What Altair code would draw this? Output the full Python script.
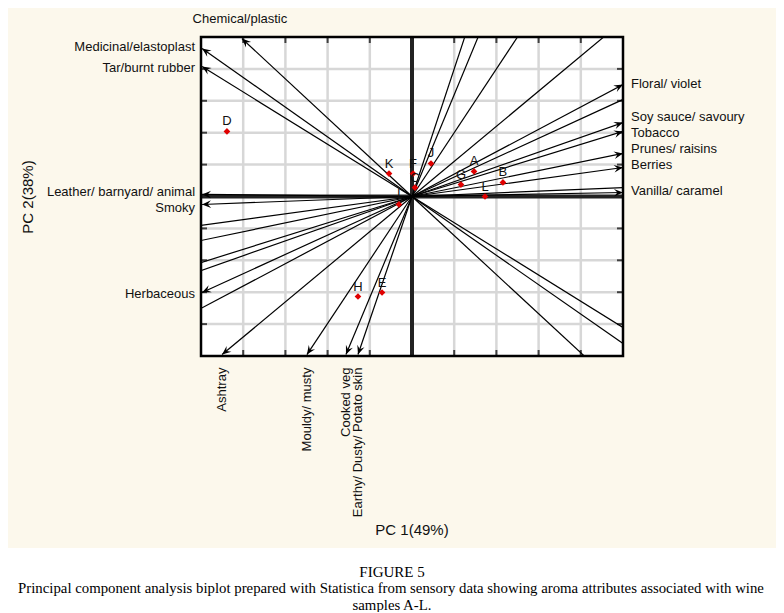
import altair as alt
import pandas as pd

W, H = 422, 319

# ---- sample scores (red diamonds) ----
sample_names = ["A", "B", "C", "D", "E", "F", "G", "H", "I", "J", "K", "L"]
sample_pc1 = [0.294, 0.431, 0.014, -0.877, -0.142, 0.005, 0.232, -0.256, -0.062, 0.090, -0.109, 0.346]
sample_pc2 = [0.157, 0.088, 0.056, 0.408, -0.602, 0.144, 0.075, -0.627, -0.050, 0.207, 0.144, 0.000]

# ---- labelled attribute vectors ----
attr_names = ["Chemical/plastic", "Medicinal/elastoplast", "Tar/burnt rubber",
              "Leather/ barnyard/ animal", "Smoky", "Herbaceous",
              "Ashtray", "Mouldy/ musty", "Cooked veg", "Earthy/ Dusty/ Potato skin",
              "Floral/ violet", "Soy sauce/ savoury", "Tobacco", "Prunes/ raisins",
              "Berries", "Vanilla/ caramel"]
attr_pc1 = [-0.806, -0.995, -0.995, -0.995, -0.995, -0.995,
            -0.900, -0.498, -0.313, -0.256,
            1.0, 1.0, 1.0, 1.0, 1.0, 1.0]
attr_pc2 = [0.990, 0.928, 0.815, 0.013, -0.050, -0.602,
            -0.991, -0.991, -0.991, -0.991,
            0.702, 0.464, 0.408, 0.270, 0.182, 0.025]
attr_side = ["top", "left", "left", "left", "left", "left",
             "bottom", "bottom", "bottom", "bottom",
             "right", "right", "right", "right", "right", "right"]
# small vertical label nudges (px) used to keep neighbouring labels apart
label_nudge = [0, -1, 1, -2, 4, 1, 0, 0, 0, 0, -1, -5, 2, -4, -2, -2]

# ---- unlabelled vectors that run out of the plot window ----
extra_pc1 = [0.30, 0.376, 0.60, 1.09, 1.2, 1.2, 1.2, 1.2, 0.98,
             -1.2, -1.2, -1.2, -1.2, -1.2]
extra_pc2 = [1.2, 1.2, 1.2, 1.2, 0.73, 0.067, -0.985, -1.106, -1.2,
             -0.218, -0.331, -0.497, -0.557, -0.842]

grid_ticks = [-0.8, -0.6, -0.4, -0.2, 0.2, 0.4, 0.6, 0.8]

FONT = "Liberation Sans"
SERIF = "Liberation Serif"
TXT = "#111111"

samples = pd.DataFrame({"name": sample_names, "pc1": sample_pc1, "pc2": sample_pc2})
attrs = pd.DataFrame({"name": attr_names, "pc1": attr_pc1, "pc2": attr_pc2,
                      "side": attr_side, "nudge": label_nudge})
vectors = pd.concat([attrs[["pc1", "pc2"]],
                     pd.DataFrame({"pc1": extra_pc1, "pc2": extra_pc2})], ignore_index=True)
grid = pd.DataFrame({"v": grid_ticks})
one = pd.DataFrame({"a": [0]})

xs = alt.Scale(domain=[-1, 1], nice=False, zero=False)
ys = alt.Scale(domain=[-1, 1], nice=False, zero=False)

def X(f):
    return alt.X(f, type="quantitative", scale=xs, axis=None)

def Y(f):
    return alt.Y(f, type="quantitative", scale=ys, axis=None)

cream = alt.Chart(one).mark_rect(color="#fcf8ec").encode(
    x=alt.value(-193), x2=alt.value(575), y=alt.value(-29), y2=alt.value(511))

plot_bg = alt.Chart(one).mark_rect(color="white").encode(
    x=alt.X(datum=-1, scale=xs, axis=None), x2=alt.datum(1),
    y=alt.Y(datum=-1, scale=ys, axis=None), y2=alt.datum(1))

vgrid = alt.Chart(grid).mark_rule(color="#d7d7d7", strokeWidth=2.5).encode(
    x=X("v"), y=alt.value(0), y2=alt.value(H))
hgrid = alt.Chart(grid).mark_rule(color="#d7d7d7", strokeWidth=2.5).encode(
    y=Y("v"), x=alt.value(0), x2=alt.value(W))

axes0 = alt.Chart(one).mark_rule(color="#222222", strokeWidth=4).encode(
    x=alt.X(datum=0, scale=xs, axis=None), y=alt.value(0), y2=alt.value(H))
axes1 = alt.Chart(one).mark_rule(color="#222222", strokeWidth=4).encode(
    y=alt.Y(datum=0, scale=ys, axis=None), x=alt.value(0), x2=alt.value(W))

vec_lines = alt.Chart(vectors).mark_rule(color="black", strokeWidth=1.2, clip=True).encode(
    x=X("pc1"), y=Y("pc2"), x2=alt.datum(0), y2=alt.datum(0))

arrow_path = "M0,0 L0.42,1 L0,0.62 L-0.42,1 Z"
heads = alt.Chart(attrs).transform_calculate(
    ang=f"(atan2(datum.pc1*{W/2}, datum.pc2*{H/2})*180/PI + 360) % 360"
).mark_point(shape=arrow_path, filled=True, color="black", size=324, opacity=1).encode(
    x=X("pc1"), y=Y("pc2"), angle=alt.Angle("ang:Q", scale=None))

pts = alt.Chart(samples).mark_point(shape="diamond", filled=True, color="#e00000",
                                   size=45, opacity=1).encode(x=X("pc1"), y=Y("pc2"))
pt_labels = alt.Chart(samples).mark_text(font=FONT, fontSize=13, color=TXT, dy=-10).encode(
    x=X("pc1"), y=Y("pc2"), text="name")

def side(s):
    return alt.Chart(attrs).transform_filter(alt.datum.side == s).transform_calculate(
        ly=f"datum.pc2 - datum.nudge / {H/2}")

lab_left = side("left").mark_text(font=FONT, fontSize=13, color=TXT, align="right",
                                  baseline="middle", dx=-7).encode(x=X("pc1"), y=Y("ly"), text="name")
lab_right = side("right").mark_text(font=FONT, fontSize=13, color=TXT, align="left",
                                    baseline="middle", dx=8).encode(x=X("pc1"), y=Y("ly"), text="name")
lab_top = side("top").mark_text(font=FONT, fontSize=13, color=TXT, align="center",
                                baseline="middle", dy=-20, dx=-2).encode(x=X("pc1"), y=Y("ly"), text="name")
lab_bottom = side("bottom").mark_text(font=FONT, fontSize=13, color=TXT, align="right",
                                      baseline="middle", angle=270, dx=-13).encode(
    x=X("pc1"), y=Y("ly"), text="name")

# frame and ticks
frame = alt.Chart(one).mark_rect(fill="transparent", stroke="black", strokeWidth=2.5).encode(
    x=alt.X(datum=-1, scale=xs, axis=None), x2=alt.datum(1),
    y=alt.Y(datum=-1, scale=ys, axis=None), y2=alt.datum(1))
tick_l = alt.Chart(grid).mark_tick(orient="horizontal", color="black", size=6, thickness=2,
                                   xOffset=3).encode(x=alt.X(datum=-1, scale=xs, axis=None), y=Y("v"))
tick_r = alt.Chart(grid).mark_tick(orient="horizontal", color="black", size=6, thickness=2,
                                   xOffset=-3).encode(x=alt.X(datum=1, scale=xs, axis=None), y=Y("v"))
tick_t = alt.Chart(grid).mark_tick(orient="vertical", color="black", size=6, thickness=2,
                                   yOffset=3).encode(y=alt.Y(datum=1, scale=ys, axis=None), x=X("v"))
tick_b = alt.Chart(grid).mark_tick(orient="vertical", color="black", size=6, thickness=2,
                                   yOffset=-3).encode(y=alt.Y(datum=-1, scale=ys, axis=None), x=X("v"))

title_x = alt.Chart(one).mark_text(text="PC 1(49%)", font=FONT, fontSize=15, color=TXT,
                                   baseline="middle").encode(x=alt.value(W / 2), y=alt.value(493))
title_y = alt.Chart(one).mark_text(text="PC 2(38%)", font=FONT, fontSize=15, color=TXT,
                                   baseline="middle", angle=270).encode(x=alt.value(-173), y=alt.value(160))

cap1 = alt.Chart(one).mark_text(text="FIGURE 5", font=SERIF, fontSize=15, color="black",
                                baseline="middle").encode(x=alt.value(191), y=alt.value(535))
cap2 = alt.Chart(one).mark_text(
    text="Principal component analysis biplot prepared with Statistica from sensory data showing aroma attributes associated with wine",
    font=SERIF, fontSize=14.8, color="black", baseline="middle").encode(x=alt.value(190), y=alt.value(552))
cap3 = alt.Chart(one).mark_text(text="samples A-L.", font=SERIF, fontSize=14.8, color="black",
                                baseline="middle").encode(x=alt.value(191), y=alt.value(569))

chart = alt.layer(
    cream, plot_bg, vgrid, hgrid, axes0, axes1, vec_lines, heads, pts, pt_labels,
    lab_left, lab_right, lab_top, lab_bottom, frame, tick_l, tick_r, tick_t, tick_b,
    title_x, title_y, cap1, cap2, cap3
).properties(
    width=W, height=H, autosize="none",
    padding={"left": 193, "top": 29, "right": 153, "bottom": 256},
    background="white"
).configure_view(stroke=None)

chart.save("out.html", embed_options={"renderer": "svg", "actions": False})
